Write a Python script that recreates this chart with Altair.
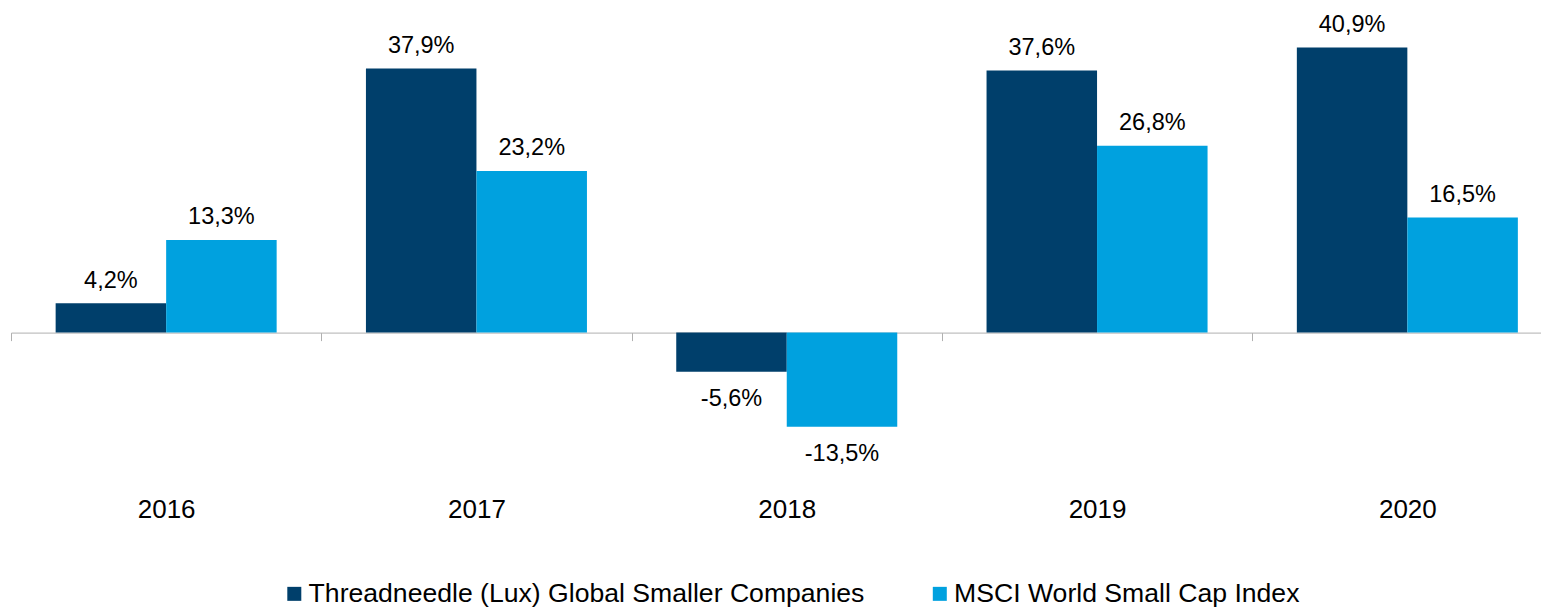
import altair as alt
import pandas as pd

years = ["2016", "2017", "2018", "2019", "2020"]
series = ["Threadneedle (Lux) Global Smaller Companies", "MSCI World Small Cap Index"]
fund = [4.2, 37.9, -5.6, 37.6, 40.9]
index = [13.3, 23.2, -13.5, 26.8, 16.5]
colors = ["#003F6B", "#00A1DF"]

rows = []
for i, y in enumerate(years):
    rows.append({"year": y, "series": series[0], "value": fund[i]})
    rows.append({"year": y, "series": series[1], "value": index[i]})
df = pd.DataFrame(rows)

FONT = "Liberation Sans, Arial, sans-serif"
H = 464
YDOM = [-20, 46.57]
zero_off = -(H - (YDOM[1] / (YDOM[1] - YDOM[0])) * H)

x_enc = alt.X(
    "year:N",
    sort=years,
    scale=alt.Scale(paddingInner=0, paddingOuter=0, range=[0, 1551.5]),
    axis=alt.Axis(
        title=None,
        offset=zero_off,
        domainColor="#B0B0B0",
        domainWidth=1,
        tickColor="#B0B0B0",
        tickSize=8,
        tickWidth=1,
        tickBand="extent",
        labelFont=FONT,
        labelFontSize=26,
        labelColor="#000000",
        labelPadding=156,
        labelAngle=0,
        grid=False,
    ),
)
xo_enc = alt.XOffset(
    "series:N",
    sort=series,
    scale=alt.Scale(domain=series, paddingInner=0, paddingOuter=0.404),
)
y_enc = alt.Y(
    "value:Q",
    scale=alt.Scale(domain=YDOM, nice=False, zero=False),
    axis=None,
)

base = alt.Chart(df).transform_calculate(
    label="(datum.value < 0 ? '-' : '') + replace(format(abs(datum.value), '.1f'), '.', ',') + '%'"
)

bars = base.mark_bar().encode(
    x=x_enc,
    xOffset=xo_enc,
    y=y_enc,
    y2=alt.datum(0),
    color=alt.Color(
        "series:N",
        sort=series,
        scale=alt.Scale(domain=series, range=colors),
        legend=alt.Legend(
            title=None,
            orient="none",
            legendX=270,
            legendY=572.5,
            direction="horizontal",
            symbolType="square",
            symbolSize=196,
            symbolStrokeWidth=0,
            labelFont=FONT,
            labelFontSize=26.6,
            labelColor="#000000",
            labelOffset=1,
            columnPadding=61.5,
            padding=0,
            labelLimit=1000,
        ),
    ),
)

pos_text = base.transform_filter("datum.value >= 0").mark_text(
    baseline="alphabetic", dy=-15.5, font=FONT, fontSize=23.5, color="#000000"
).encode(x=x_enc, xOffset=xo_enc, y=y_enc, text="label:N")

neg_text = base.transform_filter("datum.value < 0").mark_text(
    baseline="alphabetic", dy=34.6, font=FONT, fontSize=23.5, color="#000000"
).encode(x=x_enc, xOffset=xo_enc, y=y_enc, text="label:N")

chart = (
    alt.layer(bars, pos_text, neg_text)
    .properties(
        width=1530,
        height=H,
        autosize=alt.AutoSizeParams(type="none"),
        padding={"left": 3, "top": 0, "right": 0, "bottom": 135},
        background="#FFFFFF",
    )
    .configure_view(stroke=None)
)

chart.save("out.html", embed_options={"renderer": "svg", "actions": False})
